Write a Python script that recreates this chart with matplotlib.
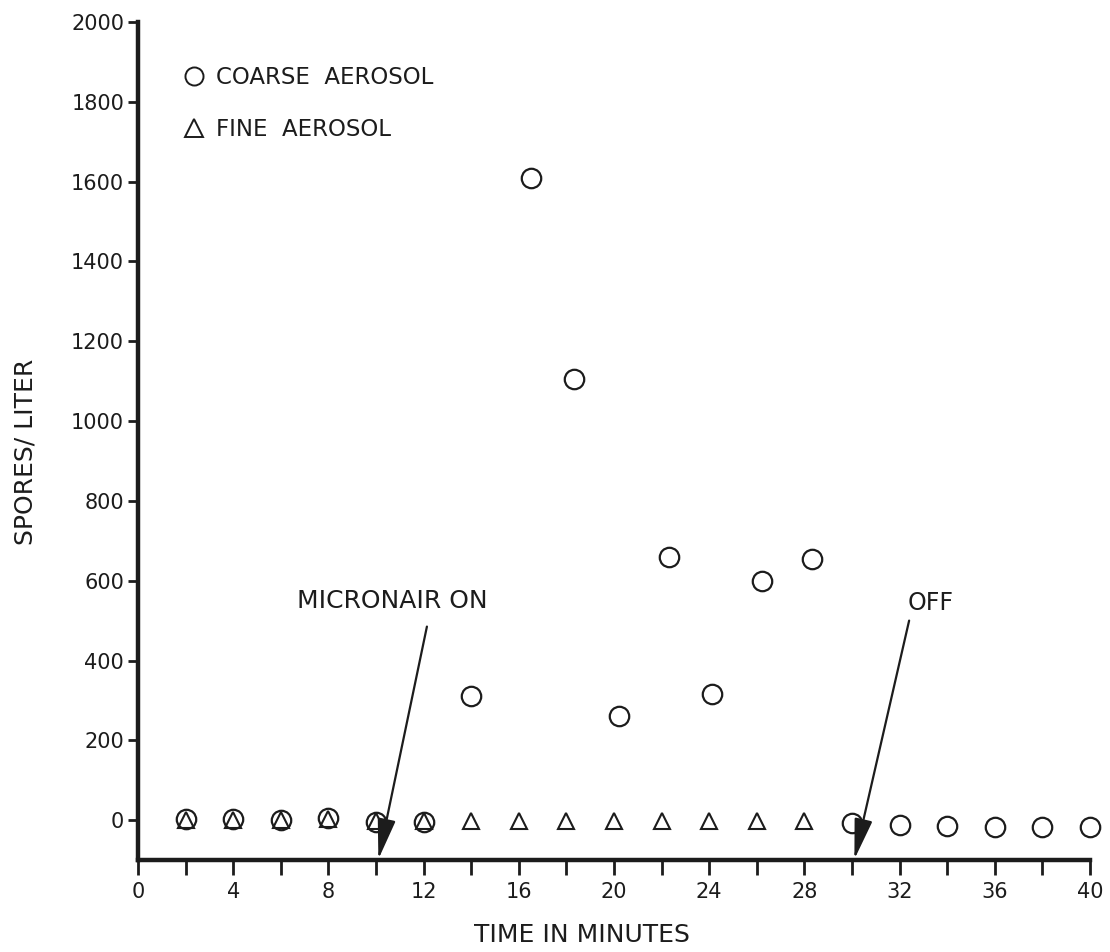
import matplotlib
matplotlib.use("Agg")
import matplotlib.pyplot as plt
from matplotlib.lines import Line2D

# ---- data ----
coarse_time = [2, 4, 6, 8, 10, 12, 14, 16.5, 18.3, 20.2, 22.3, 24.1, 26.2, 28.3,
               30, 32, 34, 36, 38, 40]
coarse_spores = [2, 2, 0, 5, -5, -5, 310, 1610, 1105, 262, 660, 315, 600, 655,
                 -8, -12, -14, -18, -16, -18]
fine_time = [2, 4, 6, 8, 10, 12, 14, 16, 18, 20, 22, 24, 26, 28]
fine_spores = [0, 0, 0, 2, -3, -3, -3, -3, -3, -3, -3, -3, -3, -3]

x_major = [0, 4, 8, 12, 16, 20, 24, 28, 32, 36, 40]
x_minor = [2, 6, 10, 14, 18, 22, 26, 30, 34, 38]
y_ticks = [0, 200, 400, 600, 800, 1000, 1200, 1400, 1600, 1800, 2000]

on_label = "MICRONAIR ON"
off_label = "OFF"
on_tip, on_start, on_text = (10.1, -98), (12.14, 485), (10.7, 550)
off_tip, off_start, off_text = (30.1, -98), (32.4, 500), (33.3, 545)

ink = "#1c1c1c"
plt.rcParams["font.family"] = ["DejaVu Sans"]

fig = plt.figure(figsize=(11.10, 9.52), dpi=100)
ax = fig.add_axes([0.1243, 0.0966, 0.8577, 0.8803])

ax.plot(coarse_time, coarse_spores, linestyle="none", marker="o", markersize=14,
        markerfacecolor="none", markeredgecolor=ink, markeredgewidth=1.6,
        clip_on=False, zorder=3)
ax.plot(fine_time, fine_spores, linestyle="none", marker="^", markersize=11,
        markerfacecolor="none", markeredgecolor=ink, markeredgewidth=1.5,
        clip_on=False, zorder=3)

ax.set_xlim(0, 40)
ax.set_ylim(-100, 2000)

for s in ("top", "right"):
    ax.spines[s].set_visible(False)
for s in ("left", "bottom"):
    ax.spines[s].set_linewidth(3.2)
    ax.spines[s].set_color(ink)

ax.set_xticks(x_major)
ax.set_xticks(x_minor, minor=True)
ax.set_xticklabels([str(v) for v in x_major])
ax.set_yticks(y_ticks)
ax.set_yticklabels([str(v) for v in y_ticks])
ax.tick_params(axis="x", which="both", direction="out", length=11, width=2,
               color=ink, pad=5, labelsize=15, labelcolor=ink)
ax.tick_params(axis="y", which="both", direction="out", length=7, width=2,
               color=ink, pad=3, labelsize=15, labelcolor=ink)

ax.set_xlabel("TIME IN MINUTES", fontsize=18, color=ink, labelpad=15)
ax.set_ylabel("SPORES/ LITER", fontsize=18, color=ink, labelpad=24)
ax.xaxis.label.set_x(0.466)
ax.yaxis.label.set_y(0.487)

# arrows and annotations
arrow_kw = dict(arrowstyle="-|>,head_length=1.25,head_width=0.28", color=ink,
                lw=1.6, mutation_scale=20, shrinkA=0, shrinkB=0)
ax.annotate("", xy=on_tip, xytext=on_start, arrowprops=arrow_kw,
            annotation_clip=False, zorder=4)
ax.annotate("", xy=off_tip, xytext=off_start, arrowprops=arrow_kw,
            annotation_clip=False, zorder=4)
ax.text(*on_text, on_label, fontsize=18, color=ink, ha="center", va="center")
ax.text(*off_text, off_label, fontsize=17, color=ink, ha="center", va="center")

# legend
handles = [
    Line2D([], [], linestyle="none", marker="o", markersize=13,
           markerfacecolor="none", markeredgecolor=ink, markeredgewidth=1.4),
    Line2D([], [], linestyle="none", marker="^", markersize=13,
           markerfacecolor="none", markeredgecolor=ink, markeredgewidth=1.4),
]
ax.legend(handles, ["COARSE  AEROSOL", "FINE  AEROSOL"], loc="upper left",
          bbox_to_anchor=(0.047, 0.947), frameon=False, fontsize=16.5,
          handlelength=1.0, handletextpad=0.45, labelspacing=1.25,
          borderaxespad=0, borderpad=0, labelcolor=ink)

fig.savefig("out.png", dpi=100, facecolor="white")
